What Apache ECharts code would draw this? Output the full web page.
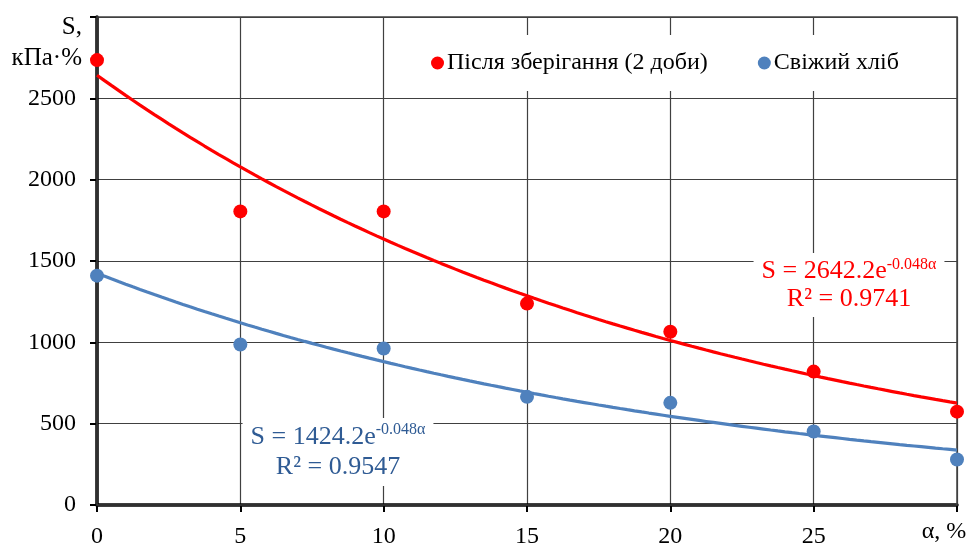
<!DOCTYPE html>
<html>
<head>
<meta charset="utf-8">
<script src="https://cdn.jsdelivr.net/npm/echarts@6/dist/echarts.min.js"></script>
<style>
  html, body { margin: 0; padding: 0; background: #fff; }
  #chart { width: 969px; height: 544px; }
</style>
</head>
<body>
<div id="chart"></div>
<script>
// α, % — concentration steps
const alphaValues = [0, 5, 10, 15, 20, 25, 30];
// S, кПа·% — after storage (2 days)
const storedValues = [2735, 1805, 1805, 1238, 1065, 820, 574];
// S, кПа·% — fresh bread
const freshValues = [1410, 987, 962, 665, 628, 452, 280];
// exponential fit coefficients: S = a·e^(b·α)
const storedFit = { a: 2642.2, b: -0.048, r2: '0.9741' };
const freshFit = { a: 1424.2, b: -0.048, r2: '0.9547' };
const yTicks = [0, 500, 1000, 1500, 2000, 2500];

const storedName = 'Після зберігання (2 доби)';
const freshName = 'Свіжий хліб';
const RED = '#ff0000';
const BLUE = '#4f81bd';
const BLUE_TEXT = '#2f5b94';
const GRID = '#404040';
const FONT = '"Liberation Serif", "Times New Roman", serif';

// sample the fitted exponential along the α range
function fitCurve(fit) {
  const pts = [];
  for (let i = 0; i <= 120; i++) {
    const x = i * 30 / 120;
    pts.push([x, fit.a * Math.exp(fit.b * x)]);
  }
  return pts;
}

const chart = echarts.init(document.getElementById('chart'), null, { renderer: 'canvas' });

// equation + R² label with a white box behind it
function eqText(fit, color, cx, top, lh, pad) {
  return {
    type: 'text',
    x: cx, y: top,
    z: 50,
    style: {
      text: '{t|S = ' + fit.a.toFixed(1) + 'e}{s|' + fit.b.toFixed(3) + 'α}\n{t|R² = ' + fit.r2 + '}',
      fill: color,
      align: 'center',
      verticalAlign: 'top',
      backgroundColor: '#fff',
      padding: pad,
      rich: {
        t: { fontSize: 26, fontFamily: FONT, color: color, lineHeight: lh },
        s: { fontSize: 16, fontFamily: FONT, color: color, lineHeight: 18, verticalAlign: 'top' }
      }
    }
  };
}

chart.setOption({
  animation: false,
  backgroundColor: '#fff',
  textStyle: { fontFamily: FONT },
  grid: {
    left: 97, right: 12, top: 17, bottom: 39,
    outerBoundsMode: 'none', containLabel: false,
    show: true, borderColor: GRID, borderWidth: 1.5, z: 3
  },
  legend: {
    data: [storedName, freshName],
    top: 35, left: 418,
    backgroundColor: '#fff',
    padding: [16, 14, 16, 13],
    itemWidth: 13, itemHeight: 13, itemGap: 50,
    icon: 'circle',
    textStyle: { fontSize: 24, fontFamily: FONT, color: '#000', padding: [0, 0, 0, -2] }
  },
  xAxis: {
    type: 'value',
    min: 0, max: 30, interval: 5,
    axisLine: { show: true, onZero: false, lineStyle: { color: '#000', width: 3.5 } },
    axisTick: { show: true, length: 7, lineStyle: { color: '#000', width: 2 } },
    axisLabel: {
      fontSize: 24, fontFamily: FONT, color: '#000', margin: 20,
      formatter: v => v === 30 ? '' : String(v)
    },
    splitLine: { show: true, lineStyle: { color: GRID, width: 1.2 } }
  },
  yAxis: {
    type: 'value',
    min: 0, max: 3000, interval: 500,
    axisLine: { show: true, lineStyle: { color: '#000', width: 3.5 } },
    axisTick: { show: true, length: 7, lineStyle: { color: '#000', width: 2 } },
    axisLabel: {
      fontSize: 24, fontFamily: FONT, color: '#000', margin: 21,
      formatter: v => yTicks.indexOf(v) >= 0 ? String(v) : ''
    },
    splitLine: { show: true, lineStyle: { color: GRID, width: 1.2 } }
  },
  graphic: [
    {
      type: 'text', x: 82, y: 12, z: 50,
      style: { text: 'S,\nкПа·%', font: '25px ' + FONT, fill: '#000', align: 'right', verticalAlign: 'top', lineHeight: 31 }
    },
    {
      type: 'text', x: 944, y: 520, z: 50,
      style: { text: 'α, %', font: '24px ' + FONT, fill: '#000', align: 'center', verticalAlign: 'top' }
    },
    eqText(storedFit, RED, 849, 253, 28, [4, 8, 4, 8]),
    eqText(freshFit, BLUE_TEXT, 338, 418, 30, [4, 8, 4, 8])
  ],
  series: [
    {
      name: storedName + ' fit', type: 'line', data: fitCurve(storedFit),
      showSymbol: false, symbol: 'none', smooth: false, silent: true,
      lineStyle: { color: RED, width: 3.2 }, z: 4
    },
    {
      name: freshName + ' fit', type: 'line', data: fitCurve(freshFit),
      showSymbol: false, symbol: 'none', smooth: false, silent: true,
      lineStyle: { color: BLUE, width: 3.2 }, z: 4
    },
    {
      name: storedName, type: 'scatter',
      data: alphaValues.map((a, i) => [a, storedValues[i]]),
      symbolSize: 14, itemStyle: { color: RED, opacity: 1 }, z: 6, clip: false
    },
    {
      name: freshName, type: 'scatter',
      data: alphaValues.map((a, i) => [a, freshValues[i]]),
      symbolSize: 14, itemStyle: { color: BLUE, opacity: 1 }, z: 6, clip: false
    }
  ]
});
</script>
</body>
</html>
